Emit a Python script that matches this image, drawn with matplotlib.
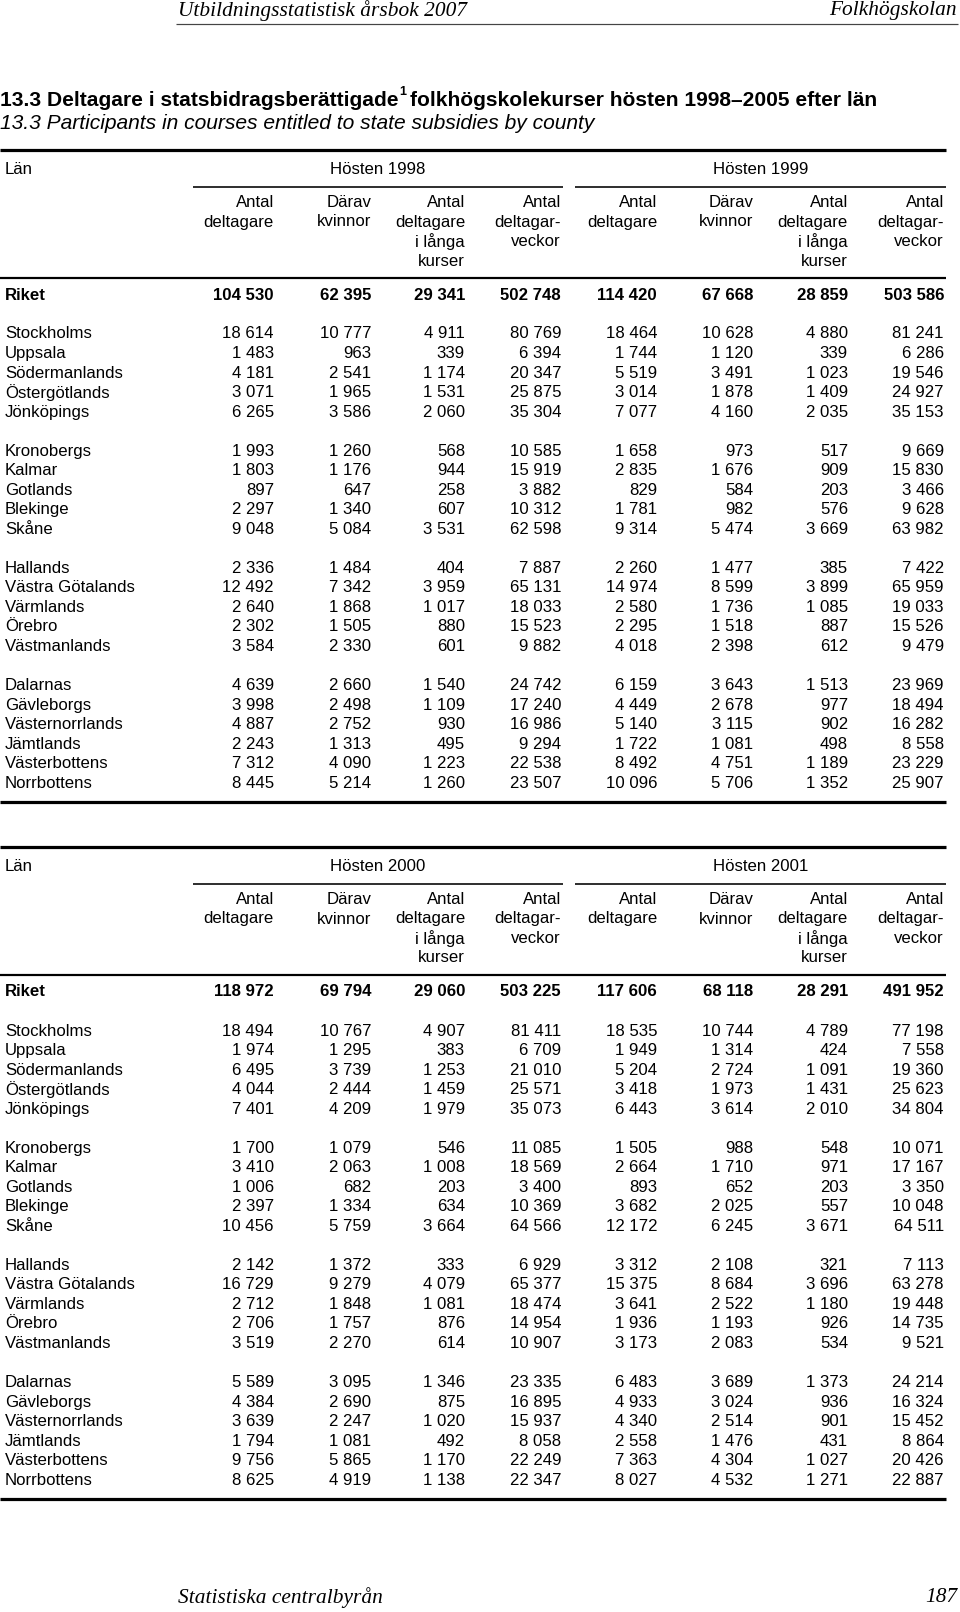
import matplotlib
matplotlib.use("Agg")
import matplotlib.pyplot as plt

# ---------------- data ----------------
counties = ["Stockholms", "Uppsala", "Södermanlands", "Östergötlands", "Jönköpings",
            "Kronobergs", "Kalmar", "Gotlands", "Blekinge", "Skåne",
            "Hallands", "Västra Götalands", "Värmlands", "Örebro", "Västmanlands",
            "Dalarnas", "Gävleborgs", "Västernorrlands", "Jämtlands", "Västerbottens", "Norrbottens"]
group_sizes = [5, 5, 5, 6]

col_headers = [["Antal", "deltagare"], ["Därav", "kvinnor"],
               ["Antal", "deltagare", "i långa", "kurser"], ["Antal", "deltagar-", "veckor"]]

riket_1998 = [104530, 62395, 29341, 502748]
deltagare_1998 = [18614, 1483, 4181, 3071, 6265, 1993, 1803, 897, 2297, 9048, 2336, 12492, 2640, 2302, 3584, 4639, 3998, 4887, 2243, 7312, 8445]
kvinnor_1998 = [10777, 963, 2541, 1965, 3586, 1260, 1176, 647, 1340, 5084, 1484, 7342, 1868, 1505, 2330, 2660, 2498, 2752, 1313, 4090, 5214]
langa_1998 = [4911, 339, 1174, 1531, 2060, 568, 944, 258, 607, 3531, 404, 3959, 1017, 880, 601, 1540, 1109, 930, 495, 1223, 1260]
veckor_1998 = [80769, 6394, 20347, 25875, 35304, 10585, 15919, 3882, 10312, 62598, 7887, 65131, 18033, 15523, 9882, 24742, 17240, 16986, 9294, 22538, 23507]

riket_1999 = [114420, 67668, 28859, 503586]
deltagare_1999 = [18464, 1744, 5519, 3014, 7077, 1658, 2835, 829, 1781, 9314, 2260, 14974, 2580, 2295, 4018, 6159, 4449, 5140, 1722, 8492, 10096]
kvinnor_1999 = [10628, 1120, 3491, 1878, 4160, 973, 1676, 584, 982, 5474, 1477, 8599, 1736, 1518, 2398, 3643, 2678, 3115, 1081, 4751, 5706]
langa_1999 = [4880, 339, 1023, 1409, 2035, 517, 909, 203, 576, 3669, 385, 3899, 1085, 887, 612, 1513, 977, 902, 498, 1189, 1352]
veckor_1999 = [81241, 6286, 19546, 24927, 35153, 9669, 15830, 3466, 9628, 63982, 7422, 65959, 19033, 15526, 9479, 23969, 18494, 16282, 8558, 23229, 25907]

riket_2000 = [118972, 69794, 29060, 503225]
deltagare_2000 = [18494, 1974, 6495, 4044, 7401, 1700, 3410, 1006, 2397, 10456, 2142, 16729, 2712, 2706, 3519, 5589, 4384, 3639, 1794, 9756, 8625]
kvinnor_2000 = [10767, 1295, 3739, 2444, 4209, 1079, 2063, 682, 1334, 5759, 1372, 9279, 1848, 1757, 2270, 3095, 2690, 2247, 1081, 5865, 4919]
langa_2000 = [4907, 383, 1253, 1459, 1979, 546, 1008, 203, 634, 3664, 333, 4079, 1081, 876, 614, 1346, 875, 1020, 492, 1170, 1138]
veckor_2000 = [81411, 6709, 21010, 25571, 35073, 11085, 18569, 3400, 10369, 64566, 6929, 65377, 18474, 14954, 10907, 23335, 16895, 15937, 8058, 22249, 22347]

riket_2001 = [117606, 68118, 28291, 491952]
deltagare_2001 = [18535, 1949, 5204, 3418, 6443, 1505, 2664, 893, 3682, 12172, 3312, 15375, 3641, 1936, 3173, 6483, 4933, 4340, 2558, 7363, 8027]
kvinnor_2001 = [10744, 1314, 2724, 1973, 3614, 988, 1710, 652, 2025, 6245, 2108, 8684, 2522, 1193, 2083, 3689, 3024, 2514, 1476, 4304, 4532]
langa_2001 = [4789, 424, 1091, 1431, 2010, 548, 971, 203, 557, 3671, 321, 3696, 1180, 926, 534, 1373, 936, 901, 431, 1027, 1271]
veckor_2001 = [77198, 7558, 19360, 25623, 34804, 10071, 17167, 3350, 10048, 64511, 7113, 63278, 19448, 14735, 9521, 24214, 16324, 15452, 8864, 20426, 22887]

tables = [
    (["Hösten 1998", "Hösten 1999"],
     [riket_1998, riket_1999],
     [[deltagare_1998, kvinnor_1998, langa_1998, veckor_1998],
      [deltagare_1999, kvinnor_1999, langa_1999, veckor_1999]]),
    (["Hösten 2000", "Hösten 2001"],
     [riket_2000, riket_2001],
     [[deltagare_2000, kvinnor_2000, langa_2000, veckor_2000],
      [deltagare_2001, kvinnor_2001, langa_2001, veckor_2001]]),
]

# ---------------- layout ----------------
W, H = 960, 1612
fig = plt.figure(figsize=(9.6, 16.12), dpi=100)
ax = fig.add_axes([0, 0, 1, 1])
ax.set_xlim(0, W)
ax.set_ylim(H, 0)
ax.axis("off")

SANS = "Liberation Sans"
SERIF = "Liberation Serif"
FS = 12.1
px = 0.72  # points per pixel

def fmt(v):
    return f"{v:,}".replace(",", " ")

# page header / footer
HFS = 15.4
ax.text(178, 11, "Utbildningsstatistisk årsbok 2007", family=SERIF, style="italic",
        fontsize=HFS, ha="left", va="center")
ax.text(957, 11, "Folkhögskolan", family=SERIF, style="italic", fontsize=HFS, ha="right", va="center")
ax.plot([176, 958], [24, 24], color="#444444", lw=1.2 * px, solid_capstyle="butt")
ax.text(178, 1598, "Statistiska centralbyrån", family=SERIF, style="italic",
        fontsize=HFS, ha="left", va="center")
ax.text(957, 1598, "187", family=SERIF, style="italic", fontsize=HFS, ha="right", va="center")

# title with superscript
fig.canvas.draw()
rend = fig.canvas.get_renderer()
TFS = 15.1
t1 = ax.text(0, 100, "13.3 Deltagare i statsbidragsberättigade", family=SANS, weight="bold",
             fontsize=TFS, ha="left", va="center")
bb = t1.get_window_extent(rend)
x_end = bb.x1  # pixel coords == data coords in x
sup = ax.text(x_end + 1, 92, "1", family=SANS, weight="bold", fontsize=TFS * 0.6,
              ha="left", va="center")
bb2 = sup.get_window_extent(rend)
ax.text(bb2.x1 + 4, 100, "folkhögskolekurser hösten 1998–2005 efter län", family=SANS,
        weight="bold", fontsize=TFS, ha="left", va="center")
ax.text(0, 123.5, "13.3 Participants in courses entitled to state subsidies by county",
        family=SANS, style="italic", fontsize=TFS, ha="left", va="center")

col_right = [274, 371, 465, 561, 657, 753, 848, 944]
spans = [(193, 563), (575, 946)]
table_tops = [150, 847]
ROW = 19.53

for top, (years, rikets, cols) in zip(table_tops, tables):
    ax.plot([0, 946], [top, top], color="black", lw=3.2 * px, solid_capstyle="butt")
    ax.text(5, top + 19.6, "Län", family=SANS, fontsize=FS, ha="left", va="center")
    for (x0, x1), yr in zip(spans, years):
        ax.text((x0 + x1) / 2, top + 19.6, yr, family=SANS, fontsize=FS, ha="center", va="center")
        ax.plot([x0, x1], [top + 37, top + 37], color="black", lw=1.6 * px, solid_capstyle="butt")
    for k in range(8):
        for j, line in enumerate(col_headers[k % 4]):
            ax.text(col_right[k], top + 52.5 + j * 19.5, line, family=SANS, fontsize=FS,
                    ha="right", va="center")
    ax.plot([0, 946], [top + 127.5, top + 127.5], color="black", lw=2.2 * px, solid_capstyle="butt")

    # Riket
    ax.text(5, top + 145, "Riket", family=SANS, weight="bold", fontsize=FS, ha="left", va="center")
    for b in range(2):
        for c in range(4):
            ax.text(col_right[b * 4 + c], top + 145, fmt(rikets[b][c]), family=SANS,
                    weight="bold", fontsize=FS, ha="right", va="center")

    # county rows
    i = 0
    slot = 0
    for g in group_sizes:
        for _ in range(g):
            y = top + 184 + slot * ROW
            ax.text(5, y, counties[i], family=SANS, fontsize=FS, ha="left", va="center")
            for b in range(2):
                for c in range(4):
                    ax.text(col_right[b * 4 + c], y, fmt(cols[b][c][i]), family=SANS,
                            fontsize=FS, ha="right", va="center")
            i += 1
            slot += 1
        slot += 1
    ax.plot([0, 946], [top + 652, top + 652], color="black", lw=3.2 * px, solid_capstyle="butt")

fig.savefig("out.png", dpi=100)
